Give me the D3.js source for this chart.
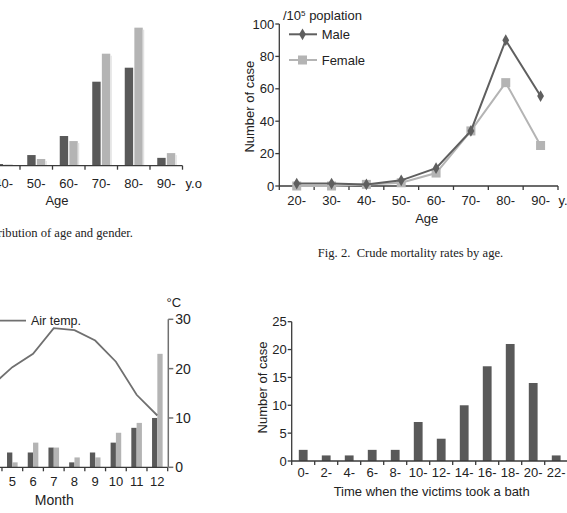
<!DOCTYPE html>
<html>
<head>
<meta charset="utf-8">
<script src="https://cdn.jsdelivr.net/npm/d3@7"></script>
<style>
	body { margin: 0; background: #fff; }
	svg { display: block; font-family: 'Liberation Sans', Arial, sans-serif; }
	.lbl { font-size: 13px; fill: #222; }
	.cap { font-family: 'Liberation Serif', 'Times New Roman', serif; font-size: 12.6px; fill: #222; white-space: pre; }
</style>
</head>
<body>
<svg id="chart" width="567" height="513"></svg>
<script>
	// Fig 1 - age / gender (left part of the panel is cut off)
	var ageGroups = ['20-', '30-', '40-', '50-', '60-', '70-', '80-', '90-'];
	var fig1Male = [0, 0, 0.6, 3.8, 10.6, 30, 35, 2.8];
	var fig1Female = [0, 0, 0.4, 2.4, 8.8, 40, 49.3, 4.5];

	// Fig 2 - crude mortality per 10^5
	var mortMale = [1.5, 1.5, 1, 3.5, 11, 34, 90, 55.5];
	var mortFemale = [0, 0, 1, 2, 8, 34, 63.8, 25];
	var mortTicks = [0, 20, 40, 60, 80, 100];

	// Fig 3 - month
	var months = ['1', '2', '3', '4', '5', '6', '7', '8', '9', '10', '11', '12'];
	var monthDark = [9, 7, 6, 4, 3, 3, 4, 1, 3, 5, 8, 10];
	var monthLight = [12, 10, 8, 5, 1, 5, 4, 2, 2, 7, 9, 23];
	var airTemp = [6.5, 7, 10.5, 16.5, 20.3, 23, 28.2, 27.8, 25.7, 21.4, 14.7, 10.5];
	var tempTicks = [0, 10, 20, 30];

	// Fig 4 - bath time
	var bathHours = ['0-', '2-', '4-', '6-', '8-', '10-', '12-', '14-', '16-', '18-', '20-', '22-'];
	var bathCases = [2, 1, 1, 2, 2, 7, 4, 10, 17, 21, 14, 1];
	var bathTicks = [0, 5, 10, 15, 20, 25];

	var DARK = '#595959', LIGHT = '#b4b4b4', AXIS = '#3a3a3a';
	var svg = d3.select('#chart');

	function xAxisBands(g, x, y0, x0, x1) {
		g.append('line').attr('x1', x0).attr('x2', x1).attr('y1', y0).attr('y2', y0)
			.attr('stroke', AXIS).attr('stroke-width', 1.3);
		var edges = x.domain().map(function(d){ return x(d); }).concat([x(x.domain()[x.domain().length - 1]) + x.step()]);
		g.selectAll(null).data(edges).enter().append('line')
			.attr('x1', function(d){ return d; }).attr('x2', function(d){ return d; })
			.attr('y1', y0).attr('y2', y0 + 4)
			.attr('stroke', AXIS).attr('stroke-width', 1.3);
	}
	function xLabels(g, x, labels, yb) {
		g.selectAll(null).data(labels).enter().append('text').attr('class', 'lbl')
			.attr('x', function(d){ return x(d) + x.step() / 2; })
			.attr('y', yb).attr('text-anchor', 'middle').text(function(d){ return d; });
	}
	function yAxisLeft(g, y, ticks, x0) {
		g.append('line').attr('x1', x0).attr('x2', x0)
			.attr('y1', y(ticks[0])).attr('y2', y(ticks[ticks.length - 1]))
			.attr('stroke', AXIS).attr('stroke-width', 1.3);
		g.selectAll(null).data(ticks).enter().append('line')
			.attr('x1', x0 - 4).attr('x2', x0)
			.attr('y1', function(d){ return y(d); }).attr('y2', function(d){ return y(d); })
			.attr('stroke', AXIS).attr('stroke-width', 1.3);
		g.selectAll(null).data(ticks).enter().append('text').attr('class', 'lbl')
			.attr('x', x0 - 5).attr('y', function(d){ return y(d) + 4.5; })
			.attr('text-anchor', 'end').text(function(d){ return d; });
	}

	// ---------- Fig 1 ----------
	(function(){
		var g = svg.append('g');
		var x = d3.scaleBand().domain(ageGroups).range([-77.5, 182.5]);
		var y = d3.scaleLinear().domain([0, 50]).range([165.7, 25.7]);
		var bw = 8.4;
		ageGroups.forEach(function(a, i){
			var c = x(a) + x.step() / 2;
			g.append('rect').attr('x', c - bw - 0.6).attr('width', bw)
				.attr('y', y(fig1Male[i])).attr('height', y(0) - y(fig1Male[i])).attr('fill', DARK);
			g.append('rect').attr('x', c + 0.6).attr('width', bw)
				.attr('y', y(fig1Female[i])).attr('height', y(0) - y(fig1Female[i])).attr('fill', LIGHT);
			g.append('rect').attr('x', c + 0.6 + bw).attr('width', 1.5)
				.attr('y', y(fig1Female[i]) + 2).attr('height', Math.max(0, y(0) - y(fig1Female[i]) - 2)).attr('fill', '#e2e2e2');
		});
		xAxisBands(g, x, y(0), x.range()[0], x.range()[1]);
		xLabels(g, x, ageGroups, 187.5);
		g.append('text').attr('class', 'lbl').attr('x', 185.5).attr('y', 187.5).text('y.o');
		g.append('text').attr('class', 'lbl').attr('x', 57).attr('y', 204.5).attr('text-anchor', 'middle').text('Age');
		g.append('text').attr('class', 'cap').attr('x', 133).attr('y', 237).attr('text-anchor', 'end')
			.text('Fig. 1.  Distribution of age and gender.');
	})();

	// ---------- Fig 2 ----------
	(function(){
		var g = svg.append('g');
		var x = d3.scaleBand().domain(ageGroups).range([279.3, 558]);
		var y = d3.scaleLinear().domain([0, 100]).range([186, 24]);
		yAxisLeft(g, y, mortTicks, 279.3);
		xAxisBands(g, x, y(0), 279.3, 558);
		xLabels(g, x, ageGroups, 204.5);
		g.append('text').attr('class', 'lbl').attr('x', 558.5).attr('y', 204.5).text('y.o');
		g.append('text').attr('class', 'lbl').attr('x', 426.7).attr('y', 223).attr('text-anchor', 'middle').text('Age');
		g.append('text').attr('class', 'lbl').attr('transform', 'translate(253.5,106.7) rotate(-90)')
			.attr('text-anchor', 'middle').text('Number of case');
		var t = g.append('text').attr('class', 'lbl').attr('x', 283).attr('y', 20);
		t.append('tspan').text('/10');
		t.append('tspan').attr('dy', -4).style('font-size', '8px').text('5');
		t.append('tspan').attr('dy', 4).text(' poplation');

		var cx = function(i){ return x(ageGroups[i]) + x.step() / 2; };
		var line = d3.line().x(function(d, i){ return cx(i); }).y(function(d){ return y(d); });
		g.append('path').attr('d', line(mortFemale)).attr('fill', 'none').attr('stroke', LIGHT).attr('stroke-width', 2);
		g.selectAll(null).data(mortFemale).enter().append('rect')
			.attr('x', function(d, i){ return cx(i) - 4.5; }).attr('y', function(d){ return y(d) - 4.5; })
			.attr('width', 9).attr('height', 9).attr('fill', LIGHT);
		g.append('path').attr('d', line(mortMale)).attr('fill', 'none').attr('stroke', '#5f5f5f').attr('stroke-width', 2);
		var diamond = d3.symbol().type(d3.symbolDiamond).size(40);
		g.selectAll(null).data(mortMale).enter().append('path')
			.attr('d', diamond).attr('transform', function(d, i){ return 'translate(' + cx(i) + ',' + y(d) + ')'; })
			.attr('fill', '#5f5f5f');

		// legend
		g.append('line').attr('x1', 289).attr('x2', 317).attr('y1', 34.3).attr('y2', 34.3).attr('stroke', '#5f5f5f').attr('stroke-width', 2);
		g.append('path').attr('d', diamond).attr('transform', 'translate(302.5,34.3)').attr('fill', '#5f5f5f');
		g.append('text').attr('class', 'lbl').attr('x', 321.7).attr('y', 39).text('Male');
		g.append('line').attr('x1', 289).attr('x2', 317).attr('y1', 60).attr('y2', 60).attr('stroke', LIGHT).attr('stroke-width', 2);
		g.append('rect').attr('x', 298).attr('y', 55.5).attr('width', 9).attr('height', 9).attr('fill', LIGHT);
		g.append('text').attr('class', 'lbl').attr('x', 321.7).attr('y', 64.7).text('Female');

		g.append('text').attr('class', 'cap').attr('x', 410.5).attr('y', 257).attr('text-anchor', 'middle')
			.text('Fig. 2.  Crude mortality rates by age.');
	})();

	// ---------- Fig 3 ----------
	(function(){
		var g = svg.append('g');
		var x = d3.scaleBand().domain(months).range([-80.9, 167.7]);
		var y = d3.scaleLinear().domain([0, 30]).range([467.3, 319.3]);
		var bw = 5.3;
		months.forEach(function(m, i){
			var c = x(m) + x.step() / 2;
			g.append('rect').attr('x', c - bw).attr('width', bw)
				.attr('y', y(monthDark[i])).attr('height', y(0) - y(monthDark[i])).attr('fill', DARK);
			g.append('rect').attr('x', c).attr('width', bw)
				.attr('y', y(monthLight[i])).attr('height', y(0) - y(monthLight[i])).attr('fill', LIGHT);
		});
		var line = d3.line().x(function(d, i){ return x(months[i]) + x.step() / 2; }).y(function(d){ return y(d); });
		g.append('path').attr('d', line(airTemp)).attr('fill', 'none').attr('stroke', '#707070').attr('stroke-width', 1.8);

		xAxisBands(g, x, y(0), x.range()[0], x.range()[1]);
		xLabels(g, x, months, 486);
		// right axis
		var xr = 168.3;
		g.append('line').attr('x1', xr).attr('x2', xr).attr('y1', y(0)).attr('y2', y(30)).attr('stroke', '#707070').attr('stroke-width', 1.5);
		g.selectAll(null).data(tempTicks).enter().append('line')
			.attr('x1', xr).attr('x2', xr + 5)
			.attr('y1', function(d){ return y(d); }).attr('y2', function(d){ return y(d); })
			.attr('stroke', '#707070').attr('stroke-width', 1.5);
		g.selectAll(null).data(tempTicks).enter().append('text').attr('class', 'lbl')
			.attr('x', xr + 7).attr('y', function(d){ return y(d) + 5; }).style('font-size', '14px')
			.text(function(d){ return d; });
		g.append('text').attr('class', 'lbl').attr('x', 166.5).attr('y', 307).text('°C');
		g.append('line').attr('x1', -20).attr('x2', 26).attr('y1', 320.7).attr('y2', 320.7).attr('stroke', '#707070').attr('stroke-width', 1.8);
		g.append('text').attr('class', 'lbl').attr('x', 31).attr('y', 325).style('font-size', '12.5px').text('Air temp.');
		g.append('text').attr('class', 'lbl').attr('x', 54.3).attr('y', 505).attr('text-anchor', 'middle').style('font-size', '14px').text('Month');
	})();

	// ---------- Fig 4 ----------
	(function(){
		var g = svg.append('g');
		var x = d3.scaleBand().domain(bathHours).range([291.7, 567.7]).paddingInner(0);
		var y = d3.scaleLinear().domain([0, 25]).range([461, 321.7]);
		var bw = 8.8;
		g.selectAll(null).data(bathCases).enter().append('rect')
			.attr('x', function(d, i){ return x(bathHours[i]) + x.step() / 2 - bw / 2; })
			.attr('width', bw)
			.attr('y', function(d){ return y(d); })
			.attr('height', function(d){ return y(0) - y(d); })
			.attr('fill', DARK);
		yAxisLeft(g, y, bathTicks, 291.7);
		xAxisBands(g, x, y(0), 291.7, 567.7);
		xLabels(g, x, bathHours, 477);
		g.append('text').attr('class', 'lbl').attr('transform', 'translate(267,387.5) rotate(-90)')
			.attr('text-anchor', 'middle').text('Number of case');
		g.append('text').attr('class', 'lbl').attr('x', 431.7).attr('y', 496).attr('text-anchor', 'middle')
			.text('Time when the victims took a bath');
	})();
</script>
</body>
</html>
